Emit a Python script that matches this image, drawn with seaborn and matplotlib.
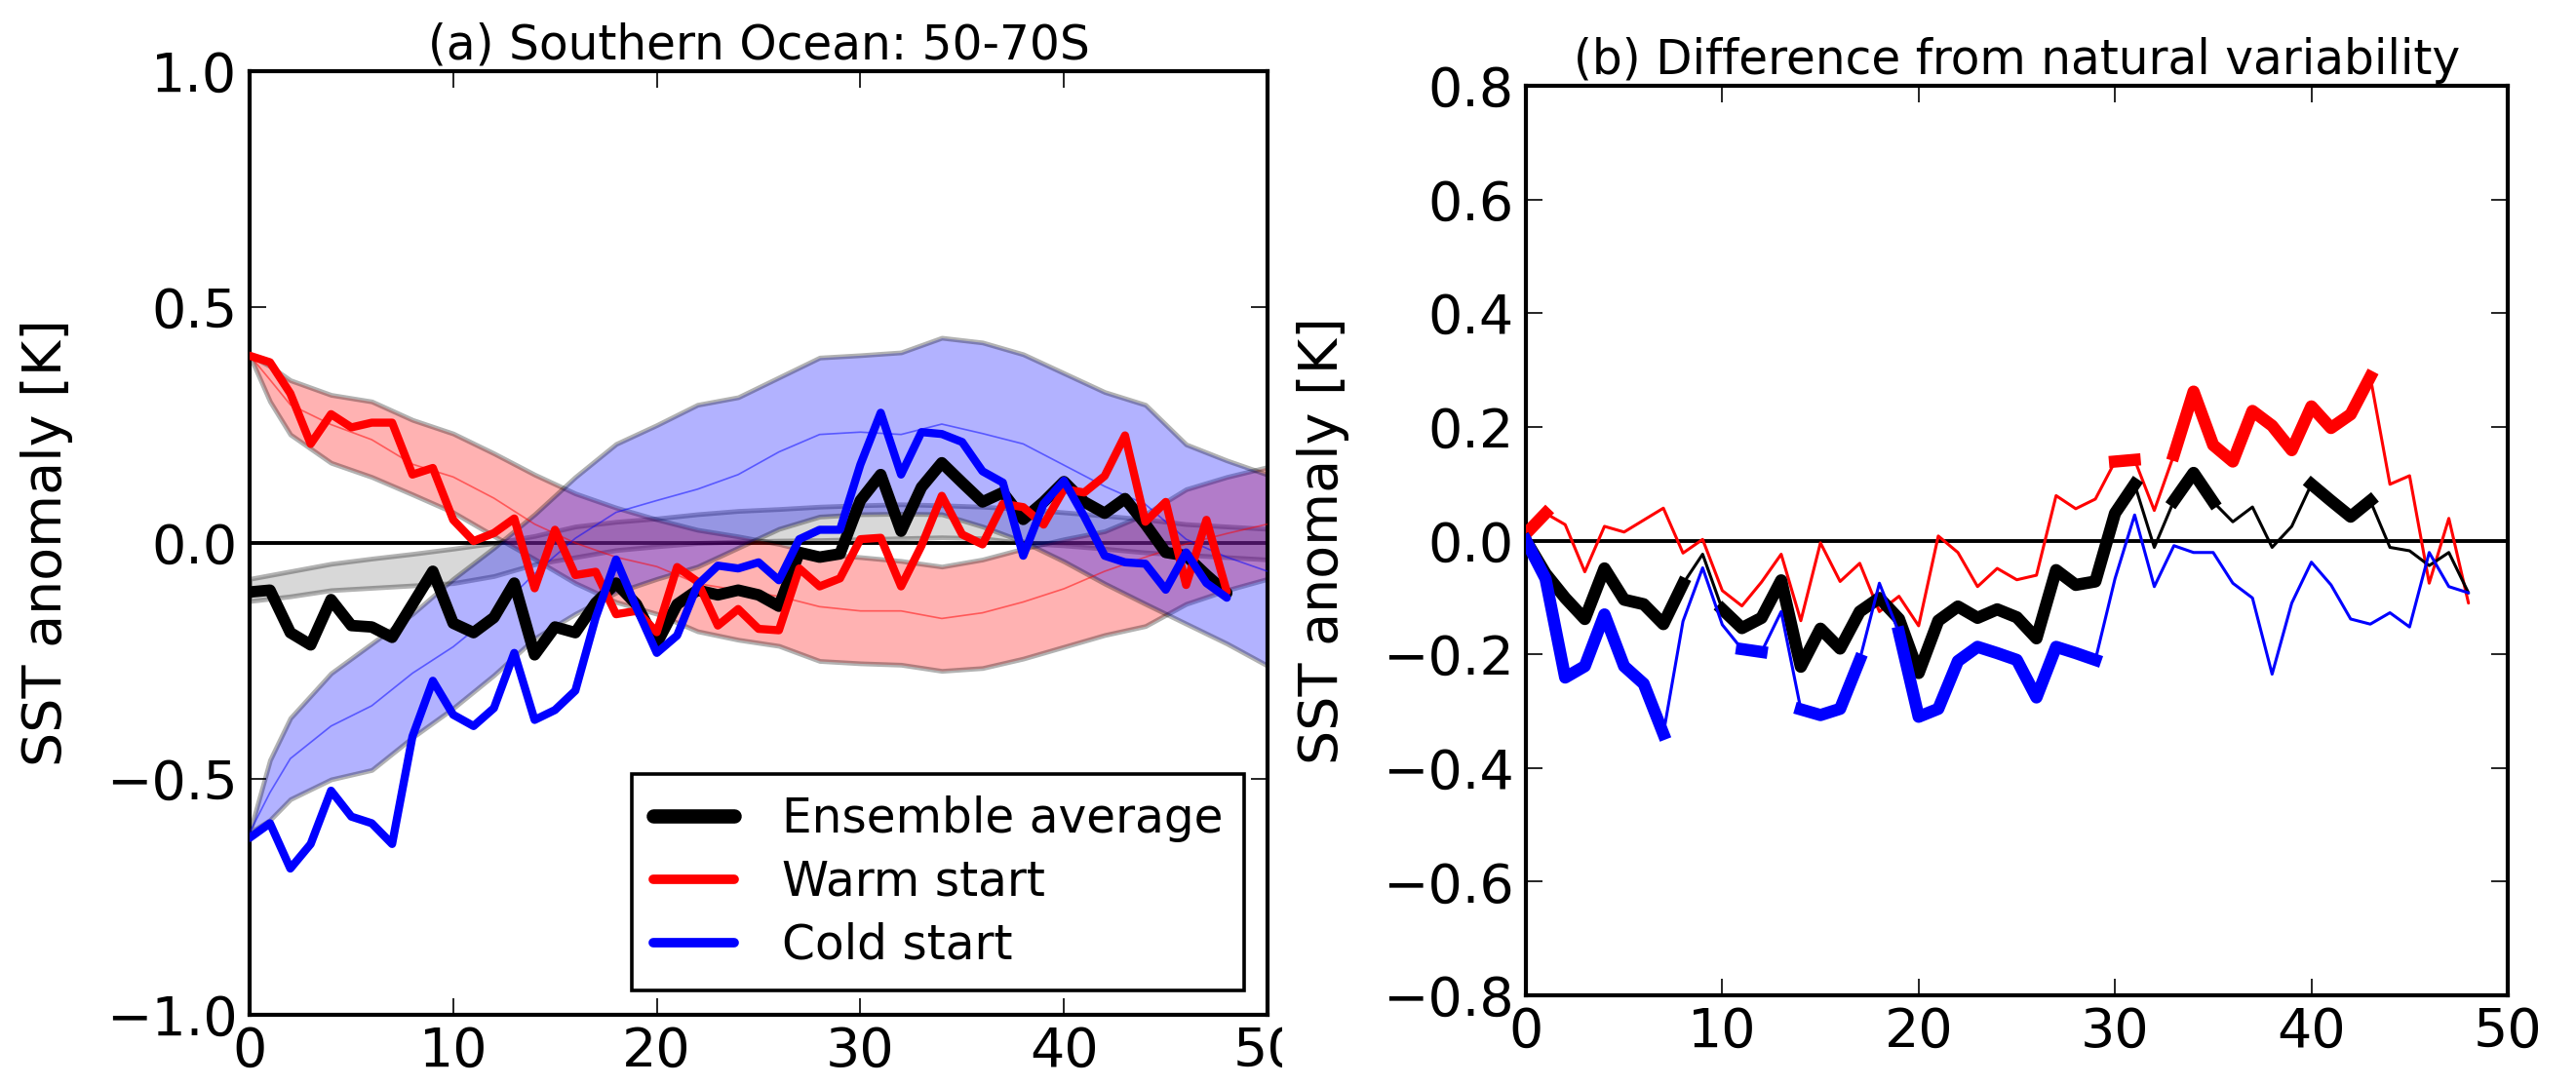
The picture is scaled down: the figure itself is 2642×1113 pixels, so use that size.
import numpy as np
import matplotlib
matplotlib.use("Agg")
import matplotlib.pyplot as plt
import seaborn as sns
from matplotlib.lines import Line2D
from matplotlib.transforms import Bbox, TransformedBbox

# ---------------------------------------------------------------------------
# Data: SST anomalies [K], years after start
# ---------------------------------------------------------------------------
years = np.arange(49)

# (a) forced runs
ens_a = [-0.104, -0.100, -0.190, -0.216, -0.120, -0.175, -0.178, -0.200, -0.130, -0.060,
         -0.170, -0.190, -0.158, -0.085, -0.237, -0.178, -0.190, -0.127, -0.085, -0.130,
         -0.213, -0.130, -0.100, -0.110, -0.100, -0.110, -0.134, -0.020, -0.030, -0.023,
         0.090, 0.145, 0.025, 0.118, 0.170, 0.128, 0.087, 0.107, 0.050, 0.087,
         0.130, 0.087, 0.063, 0.094, 0.040, -0.020, -0.027, -0.068, -0.106]
warm_a = [0.397, 0.383, 0.317, 0.210, 0.273, 0.245, 0.255, 0.255, 0.145, 0.159,
          0.049, 0.004, 0.021, 0.052, -0.096, 0.028, -0.068, -0.061, -0.151, -0.144,
          -0.189, -0.051, -0.082, -0.175, -0.140, -0.182, -0.185, -0.054, -0.092, -0.075,
          0.008, 0.011, -0.092, -0.006, 0.100, 0.018, -0.003, 0.083, 0.076, 0.039,
          0.114, 0.107, 0.142, 0.228, 0.045, 0.087, -0.089, 0.049, -0.103]
cold_a = [-0.625, -0.594, -0.690, -0.638, -0.525, -0.580, -0.594, -0.638, -0.410, -0.292,
          -0.364, -0.388, -0.350, -0.233, -0.375, -0.354, -0.313, -0.158, -0.035, -0.137,
          -0.233, -0.196, -0.089, -0.048, -0.054, -0.041, -0.079, 0.008, 0.028, 0.028,
          0.166, 0.276, 0.145, 0.235, 0.231, 0.214, 0.152, 0.128, -0.027, 0.083,
          0.132, 0.056, -0.027, -0.041, -0.044, -0.099, -0.020, -0.085, -0.116]

# (a) natural-variability envelopes (lower / mean / upper)
band_years = [0, 1, 2, 4, 6, 8, 10, 12, 14, 16, 18, 20, 22, 24, 26, 28, 30,
              32, 34, 36, 38, 40, 42, 44, 46, 48, 50]
nat_lo = [-0.123, -0.118, -0.113, -0.100, -0.095, -0.090, -0.085, -0.070, -0.045, -0.030,
          -0.015, -0.007, 0.000, 0.003, 0.005, 0.006, 0.008, 0.010, 0.012, 0.010,
          0.000, -0.005, -0.012, -0.020, -0.025, -0.030, -0.035]
nat_hi = [-0.076, -0.068, -0.060, -0.044, -0.033, -0.023, -0.012, 0.000, 0.015, 0.035,
          0.045, 0.052, 0.061, 0.068, 0.072, 0.077, 0.080, 0.082, 0.080, 0.077,
          0.072, 0.065, 0.058, 0.050, 0.040, 0.035, 0.030]
warm_lo = [0.398, 0.300, 0.230, 0.170, 0.140, 0.103, 0.065, 0.015, -0.034, -0.085,
           -0.125, -0.150, -0.187, -0.205, -0.218, -0.250, -0.255, -0.258, -0.271, -0.265,
           -0.245, -0.220, -0.195, -0.176, -0.129, -0.100, -0.076]
warm_mid = [0.398, 0.346, 0.293, 0.251, 0.219, 0.167, 0.140, 0.095, 0.040, 0.000,
            -0.030, -0.050, -0.086, -0.100, -0.113, -0.135, -0.144, -0.144, -0.160, -0.148,
            -0.125, -0.097, -0.060, -0.030, -0.002, 0.020, 0.040]
warm_hi = [0.398, 0.375, 0.345, 0.314, 0.300, 0.261, 0.232, 0.190, 0.145, 0.105,
           0.075, 0.050, 0.028, 0.014, -0.002, -0.023, -0.030, -0.038, -0.050, -0.035,
           -0.012, 0.008, 0.025, 0.061, 0.114, 0.140, 0.161]
cold_lo = [-0.614, -0.587, -0.543, -0.501, -0.481, -0.412, -0.350, -0.280, -0.202, -0.150,
           -0.105, -0.076, -0.050, -0.010, 0.030, 0.056, 0.061, 0.062, 0.061, 0.035,
           0.003, -0.039, -0.086, -0.129, -0.171, -0.213, -0.260]
cold_mid = [-0.614, -0.529, -0.457, -0.388, -0.345, -0.276, -0.220, -0.150, -0.065, 0.010,
            0.065, 0.090, 0.114, 0.145, 0.193, 0.230, 0.235, 0.230, 0.252, 0.232,
            0.210, 0.165, 0.120, 0.082, 0.008, -0.030, -0.060]
cold_hi = [-0.614, -0.460, -0.371, -0.276, -0.213, -0.150, -0.076, -0.010, 0.061, 0.140,
           0.210, 0.250, 0.293, 0.309, 0.351, 0.393, 0.398, 0.404, 0.435, 0.425,
           0.400, 0.360, 0.320, 0.293, 0.209, 0.175, 0.145]

# (b) difference from natural variability
ens_b = [0.000, -0.058, -0.101, -0.138, -0.049, -0.104, -0.112, -0.147, -0.076, -0.024,
         -0.121, -0.154, -0.136, -0.070, -0.222, -0.155, -0.190, -0.125, -0.101, -0.138,
         -0.233, -0.141, -0.116, -0.136, -0.121, -0.135, -0.172, -0.052, -0.078, -0.072,
         0.048, 0.099, -0.012, 0.070, 0.119, 0.068, 0.033, 0.059, -0.012, 0.025,
         0.099, 0.070, 0.042, 0.070, -0.012, -0.018, -0.044, -0.021, -0.092]
warm_b = [0.012, 0.048, 0.028, -0.055, 0.025, 0.015, 0.036, 0.057, -0.022, 0.002,
          -0.088, -0.115, -0.073, -0.024, -0.141, -0.004, -0.072, -0.040, -0.125, -0.098,
          -0.150, 0.008, -0.021, -0.081, -0.049, -0.069, -0.061, 0.079, 0.056, 0.073,
          0.139, 0.142, 0.053, 0.151, 0.262, 0.168, 0.139, 0.228, 0.202, 0.159,
          0.236, 0.198, 0.222, 0.288, 0.099, 0.114, -0.075, 0.039, -0.110]
cold_b = [0.000, -0.067, -0.241, -0.221, -0.130, -0.221, -0.252, -0.340, -0.142, -0.048,
          -0.148, -0.191, -0.196, -0.125, -0.297, -0.307, -0.296, -0.210, -0.075, -0.162,
          -0.310, -0.296, -0.212, -0.187, -0.198, -0.210, -0.276, -0.187, -0.198, -0.210,
          -0.067, 0.045, -0.081, -0.009, -0.021, -0.021, -0.075, -0.101, -0.235, -0.110,
          -0.038, -0.078, -0.138, -0.147, -0.127, -0.152, -0.021, -0.081, -0.092]

# years where the difference is significant (drawn bold)
ens_sig = list(range(0, 9)) + list(range(10, 32)) + [33, 34, 35] + [40, 41, 42, 43]
warm_sig = [0, 1, 30, 31] + list(range(33, 44))
cold_sig = list(range(0, 8)) + [11, 12] + [14, 15, 16, 17] + list(range(19, 30))

legend_labels = ["Ensemble average", "Warm start", "Cold start"]
title_a = "(a) Southern Ocean: 50-70S"
title_b = "(b) Difference from natural variability"
ylabel = "SST anomaly [K]"

# ---------------------------------------------------------------------------
# Style
# ---------------------------------------------------------------------------
sns.set_style("ticks")
plt.rcParams.update({
    "font.family": ["DejaVu Sans"],
    "axes.linewidth": 3.0,
    "axes.edgecolor": "black",
    "xtick.direction": "in",
    "ytick.direction": "in",
    "xtick.top": True,
    "ytick.right": True,
    "xtick.major.size": 12,
    "ytick.major.size": 12,
    "xtick.major.width": 1.2,
    "ytick.major.width": 1.2,
    "xtick.major.pad": 8,
    "ytick.major.pad": 9,
    "xtick.labelsize": 40,
    "ytick.labelsize": 40,
    "xtick.color": "black",
    "ytick.color": "black",
    "axes.labelsize": 40,
    "axes.titlesize": 35,
    "text.color": "black",
    "axes.labelcolor": "black",
})

W, H = 2642, 1113
fig = plt.figure(figsize=(W / 100, H / 100), dpi=100)
ax_a = fig.add_axes([256 / W, (H - 1041) / H, 1044 / W, 968 / H])
ax_b = fig.add_axes([1565 / W, (H - 1021) / H, 1007 / W, 933 / H])


def sig_runs(idx):
    """Split a sorted list of indices into consecutive runs."""
    out, cur = [], [idx[0]]
    for i in idx[1:]:
        if i == cur[-1] + 1:
            cur.append(i)
        else:
            out.append(cur)
            cur = [i]
    out.append(cur)
    return out


# ---------------------------------------------------------------------------
# (a) Southern Ocean SST
# ---------------------------------------------------------------------------
ax_a.axhline(0, color="black", lw=2.8, zorder=1)

for lo, hi, col in [(nat_lo, nat_hi, "grey"), (warm_lo, warm_hi, "red"),
                    (cold_lo, cold_hi, "blue")]:
    ax_a.fill_between(band_years, lo, hi, facecolor=col, edgecolor="black",
                      alpha=0.3, linewidth=3.5, zorder=2)

sns.lineplot(x=band_years, y=warm_mid, color="red", alpha=0.5, lw=1.2, ax=ax_a, zorder=3)
sns.lineplot(x=band_years, y=cold_mid, color="blue", alpha=0.5, lw=1.2, ax=ax_a, zorder=3)

sns.lineplot(x=years, y=ens_a, color="black", lw=8.5, ax=ax_a, zorder=4)
sns.lineplot(x=years, y=warm_a, color="red", lw=6, ax=ax_a, zorder=5)
sns.lineplot(x=years, y=cold_a, color="blue", lw=6, ax=ax_a, zorder=6)

ax_a.set_xlim(0, 50)
ax_a.set_ylim(-1.0, 1.0)
ax_a.set_xticks(np.arange(0, 51, 10))
ax_a.set_yticks([-1.0, -0.5, 0.0, 0.5, 1.0])
ax_a.set_xlabel("")
ax_a.set_ylabel(ylabel, labelpad=24)
ax_a.set_title(title_a, pad=9)

handles = [Line2D([], [], color="black", lw=10.5),
           Line2D([], [], color="red", lw=7),
           Line2D([], [], color="blue", lw=7)]
leg = ax_a.legend(handles, legend_labels, loc="lower right",
                  bbox_to_anchor=(0.977, 0.026), borderaxespad=0,
                  fontsize=35, frameon=True, fancybox=False, framealpha=1,
                  edgecolor="black", borderpad=0.45, labelspacing=0.35,
                  handlelength=1.7, handletextpad=1.0)
leg.get_frame().set_linewidth(2.6)
leg.set_zorder(10)

# ---------------------------------------------------------------------------
# (b) Difference from natural variability
# ---------------------------------------------------------------------------
ax_b.axhline(0, color="black", lw=2.8, zorder=1)

for vals, sig, col, z in [(warm_b, warm_sig, "red", 3),
                          (ens_b, ens_sig, "black", 4),
                          (cold_b, cold_sig, "blue", 5)]:
    sns.lineplot(x=years, y=vals, color=col, lw=2.2, ax=ax_b, zorder=z)
    v = np.asarray(vals)
    for run in sig_runs(sig):
        sns.lineplot(x=years[run], y=v[run], color=col, lw=9, ax=ax_b, zorder=z,
                     solid_capstyle="projecting")

ax_b.set_xlim(0, 50)
ax_b.set_ylim(-0.8, 0.8)
ax_b.set_xticks(np.arange(0, 51, 10))
ax_b.set_yticks(np.round(np.arange(-0.8, 0.81, 0.2), 1))
ax_b.set_xlabel("")
ax_b.set_ylabel(ylabel, labelpad=24)
ax_b.set_title(title_b, pad=9)

for ax in (ax_a, ax_b):
    for side in ("top", "right", "bottom", "left"):
        ax.spines[side].set_visible(True)
        ax.spines[side].set_linewidth(3.0)
        ax.spines[side].set_color("black")

# the last x tick label of panel (a) is cut at the panel boundary
clip = TransformedBbox(Bbox.from_extents(0, 0, 1315 / W, 1), fig.transFigure)
last_tick = ax_a.xaxis.get_major_ticks()[-1]
last_tick.label1.set_clip_box(clip)
last_tick.label1.set_clip_on(True)

fig.savefig("out.png", dpi=100, facecolor="white")
